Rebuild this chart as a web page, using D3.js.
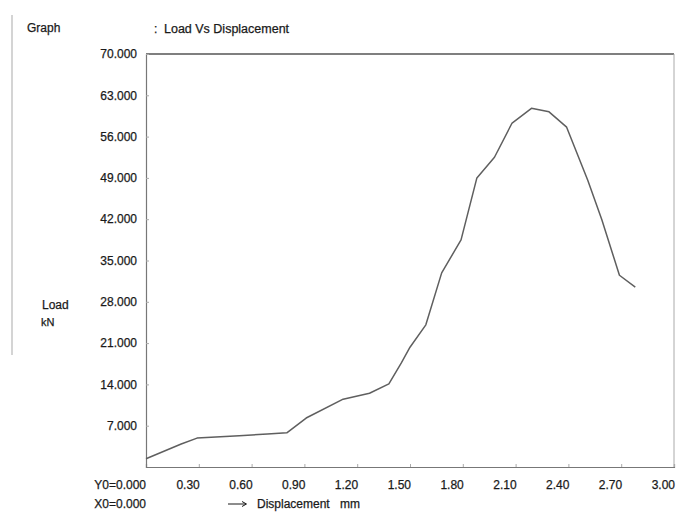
<!DOCTYPE html>
<html>
<head>
<meta charset="utf-8">
<script src="https://cdn.jsdelivr.net/npm/d3@7"></script>
<style>
  html, body { margin: 0; padding: 0; background: #fff; }
  svg { display: block; font-family: "Liberation Sans", Arial, sans-serif; }
  svg text { stroke: #1a1a1a; stroke-width: 0.25px; }
</style>
</head>
<body>
<svg id="chart" width="679" height="512"></svg>
<script>
// Load vs displacement test record
const displacement = [0.00, 0.20, 0.29, 0.53, 0.69, 0.80, 0.91, 1.12, 1.27, 1.38, 1.45, 1.50, 1.59, 1.68, 1.79, 1.88, 1.98, 2.08, 2.19, 2.29, 2.39, 2.51, 2.59, 2.69, 2.78];
const load =         [1.4,  3.9,  4.9,  5.3,  5.6,  5.8,  8.3,  11.5, 12.5, 14.1, 17.6, 20.3, 24.1, 32.9, 38.5, 49.0, 52.5, 58.3, 60.8, 60.2, 57.6, 48.6, 41.9, 32.5, 30.5];

const xTicks = [0.30, 0.60, 0.90, 1.20, 1.50, 1.80, 2.10, 2.40, 2.70, 3.00];
const yTicks = [7, 14, 21, 28, 35, 42, 49, 56, 63, 70];

const svg = d3.select("#chart");
const plotLeft = 146, plotRight = 674, plotTop = 54, plotBottom = 467;

const x = d3.scaleLinear().domain([0, 3]).range([plotLeft, plotRight]);
const y = d3.scaleLinear().domain([0, 70]).range([plotBottom, plotTop]);

const ink = "#1a1a1a";

// faint page edge on the left
svg.append("line")
  .attr("x1", 12).attr("x2", 12).attr("y1", 15).attr("y2", 355)
  .attr("stroke", "#d4d4d4").attr("stroke-width", 2);

// header
svg.append("text").attr("x", 27).attr("y", 32)
  .attr("font-size", 12).attr("fill", ink).text("Graph");
svg.append("text").attr("x", 154).attr("y", 33)
  .attr("font-size", 12).attr("fill", ink).text(":");
svg.append("text").attr("x", 164).attr("y", 33)
  .attr("font-size", 12.5).attr("fill", ink).text("Load Vs Displacement");

// plot frame
svg.append("line").attr("x1", plotLeft).attr("x2", plotRight).attr("y1", plotTop).attr("y2", plotTop)
  .attr("stroke", "#555").attr("stroke-width", 1.5);
svg.append("line").attr("x1", plotRight).attr("x2", plotRight).attr("y1", plotTop).attr("y2", plotBottom)
  .attr("stroke", "#aaa").attr("stroke-width", 1);

// y axis: ticks inside, labels drawn separately
const yAxis = svg.append("g").attr("transform", `translate(${plotLeft},0)`)
  .call(d3.axisRight(y).tickValues(yTicks).tickSize(3).tickFormat(""));
yAxis.select(".domain").attr("stroke", "#777").attr("stroke-width", 1.2);
yAxis.selectAll(".tick line").attr("stroke", "#aaa");

svg.append("g").selectAll("text").data(yTicks).join("text")
  .attr("x", 137).attr("y", d => y(d)).attr("dy", "0.35em")
  .attr("text-anchor", "end").attr("font-size", 12).attr("fill", ink)
  .text(d => d3.format(".3f")(d));

// x axis: ticks inside, labels right-aligned to tick
const xAxis = svg.append("g").attr("transform", `translate(0,${plotBottom})`)
  .call(d3.axisTop(x).tickValues(xTicks).tickSize(3).tickFormat(""));
xAxis.select(".domain").attr("stroke", "#777").attr("stroke-width", 1.2);
xAxis.selectAll(".tick line").attr("stroke", "#aaa");

svg.append("g").selectAll("text").data(xTicks).join("text")
  .attr("x", d => x(d) + 1).attr("y", 489)
  .attr("text-anchor", "end").attr("font-size", 12).attr("fill", ink)
  .text(d => d3.format(".2f")(d));

svg.append("text").attr("x", 146).attr("y", 489).attr("text-anchor", "end")
  .attr("font-size", 12).attr("fill", ink).text("Y0=0.000");
svg.append("text").attr("x", 146).attr("y", 508).attr("text-anchor", "end")
  .attr("font-size", 12).attr("fill", ink).text("X0=0.000");

// axis caption arrow
svg.append("line").attr("x1", 228).attr("x2", 246).attr("y1", 504).attr("y2", 504)
  .attr("stroke", ink).attr("stroke-width", 1);
svg.append("path").attr("d", "M242,501.5 L246.5,504 L242,506.5")
  .attr("fill", "none").attr("stroke", ink).attr("stroke-width", 1);
svg.append("text").attr("x", 257).attr("y", 508)
  .attr("font-size", 12).attr("fill", ink).text("Displacement");
svg.append("text").attr("x", 340).attr("y", 508)
  .attr("font-size", 12).attr("fill", ink).text("mm");

// y axis caption
svg.append("text").attr("x", 42).attr("y", 309)
  .attr("font-size", 12).attr("fill", ink).text("Load");
svg.append("text").attr("x", 41).attr("y", 326)
  .attr("font-size", 11).attr("fill", ink).text("kN");

// load curve
const line = d3.line().x((d, i) => x(displacement[i])).y(d => y(d));
svg.append("path").datum(load)
  .attr("d", line)
  .attr("fill", "none").attr("stroke", "#5f5f5f").attr("stroke-width", 1.5)
  .attr("stroke-linejoin", "round");
</script>
</body>
</html>
